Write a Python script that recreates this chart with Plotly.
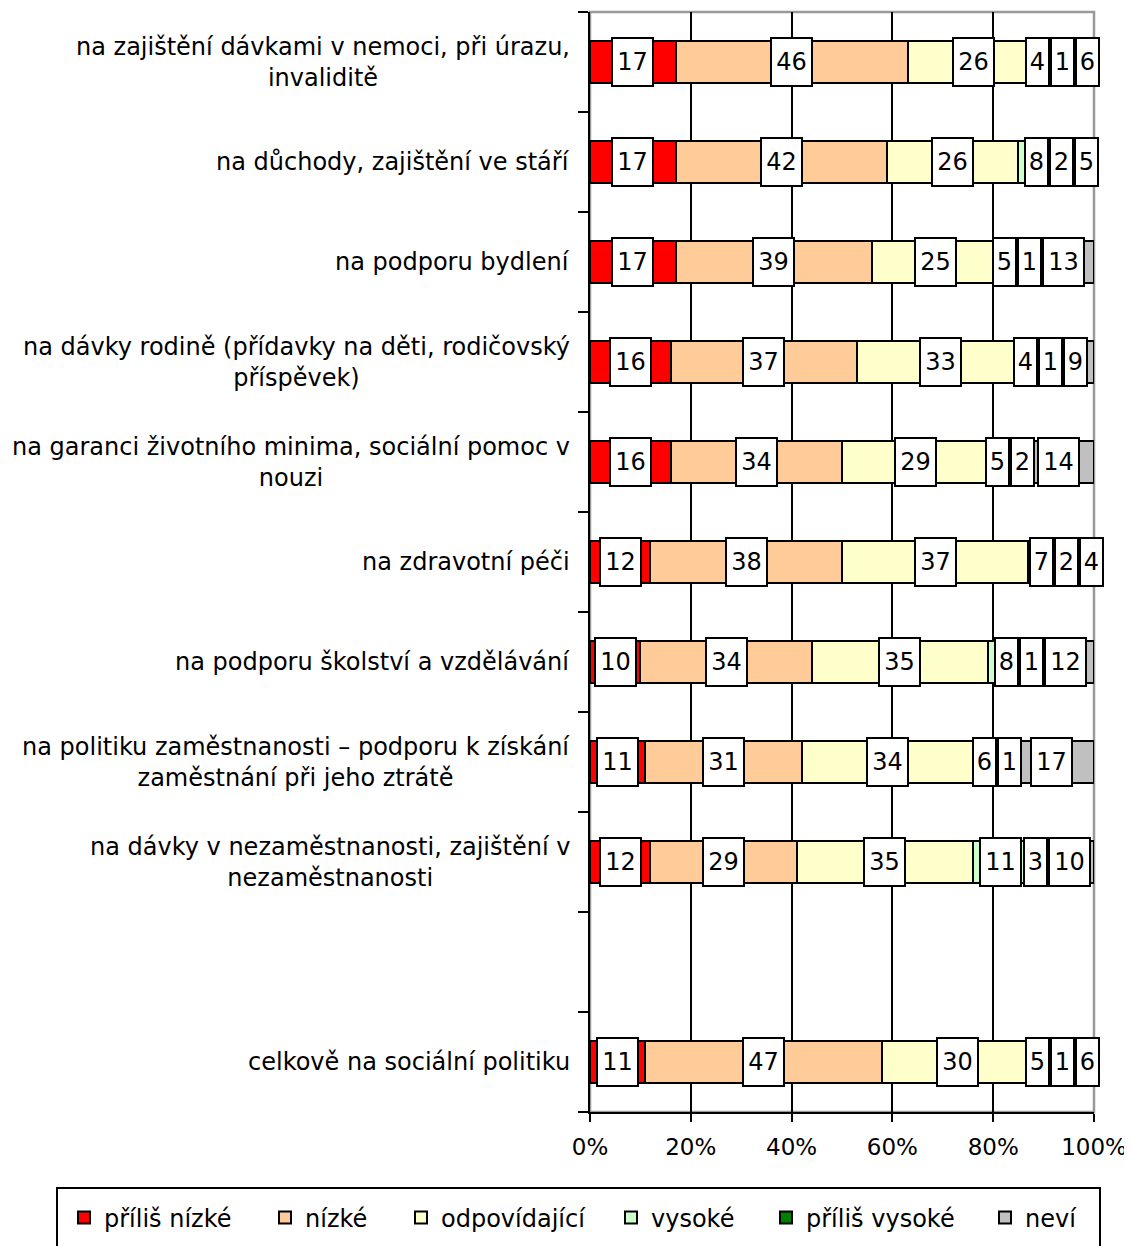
import plotly.graph_objects as go

# ---------------- data ----------------
categories = [
    "na zajištění dávkami v nemoci, při úrazu,<br>invaliditě",
    "na důchody, zajištění ve stáří",
    "na podporu bydlení",
    "na dávky rodině (přídavky na děti, rodičovský<br>příspěvek)",
    "na garanci životního minima, sociální pomoc v<br>nouzi",
    "na zdravotní péči",
    "na podporu školství a vzdělávání",
    "na politiku zaměstnanosti – podporu k získání<br>zaměstnání při jeho ztrátě",
    "na dávky v nezaměstnanosti, zajištění v<br>nezaměstnanosti",
    "",
    "celkově na sociální politiku",
]
prilis_nizke = [17, 17, 17, 16, 16, 12, 10, 11, 12, None, 11]
nizke = [46, 42, 39, 37, 34, 38, 34, 31, 29, None, 47]
odpovidajici = [26, 26, 25, 33, 29, 37, 35, 34, 35, None, 30]
vysoke = [4, 8, 5, 4, 5, 7, 8, 6, 11, None, 5]
prilis_vysoke = [1, 2, 1, 1, 2, 2, 1, 1, 3, None, 1]
nevi = [6, 5, 13, 9, 14, 4, 12, 17, 10, None, 6]

series_names = ["příliš nízké", "nízké", "odpovídající", "vysoké", "příliš vysoké", "neví"]
series_values = [prilis_nizke, nizke, odpovidajici, vysoke, prilis_vysoke, nevi]
series_colors = ["#FF0000", "#FFCC99", "#FFFFCC", "#CCFFCC", "#008000", "#C0C0C0"]
x_tick_values = [0, 20, 40, 60, 80, 100]
x_tick_labels = ["0%", "20%", "40%", "60%", "80%", "100%"]

# ---------------- layout constants ----------------
OFF = 8                      # page body margin
W, H = 1132 - OFF, 1246 - OFF
ML, MT = 590 - OFF, 12 - OFF
PLOT_W, PLOT_H = 504, 1100
MR = W - ML - PLOT_W
MB = H - MT - PLOT_H
FONT = "DejaVu Sans"
BW = 2
PAD = 2


def px_to_paper_x(sx):
    return (sx - OFF - ML) / PLOT_W


def px_to_paper_y(sy):
    return (MT + PLOT_H - (sy - OFF)) / PLOT_H


ypos = list(range(len(categories)))

# legend entry text starts (screen px) and legend frame
legend_text_x = [104, 305, 441, 651, 806, 1025]
legend_mid_y = 1218
legend_frame = (57, 1188, 1100, 1252)

fig = go.Figure()
for k, (name, vals, col) in enumerate(zip(series_names, series_values, series_colors)):
    fig.add_trace(go.Bar(
        y=ypos, x=vals, name=name, orientation="h",
        width=0.42,
        marker=dict(color=col, line=dict(color="black", width=2)),
        hoverinfo="x+name",
        legend="legend" if k == 0 else f"legend{k + 1}",
    ))

# ---------------- value labels (boxes), overlap-resolved ----------------
px_per_unit = PLOT_W / 100.0


def text_w(v):
    return 17 if len(str(v)) == 1 else 35


def box_w_units(v):
    return (text_w(v) + 2 * PAD + 2 * BW) / px_per_unit


def resolve(ideals, widths):
    clusters = [[i] for i in range(len(ideals))]

    def cluster_left(c):
        offs = []
        acc = 0.0
        for i in c:
            offs.append(acc + widths[i] / 2)
            acc += widths[i]
        return sum(ideals[i] - o for i, o in zip(c, offs)) / len(c), acc

    changed = True
    while changed:
        changed = False
        for k in range(len(clusters) - 1):
            l1, w1 = cluster_left(clusters[k])
            l2, _ = cluster_left(clusters[k + 1])
            if l1 + w1 > l2 + 1e-9:
                clusters[k] = clusters[k] + clusters[k + 1]
                del clusters[k + 1]
                changed = True
                break
    centers = [0.0] * len(ideals)
    for c in clusters:
        left, _ = cluster_left(c)
        acc = left
        for i in c:
            centers[i] = acc + widths[i] / 2
            acc += widths[i]
    return centers


annotations = []
for r in range(len(categories)):
    vals = [s[r] for s in series_values]
    if any(v is None for v in vals):
        continue
    cum = 0.0
    ideals, widths, shown = [], [], []
    for v in vals:
        if v:
            ideals.append(cum + v / 2.0)
            widths.append(box_w_units(v))
            shown.append(v)
        cum += v
    centers = resolve(ideals, widths)
    for v, cx in zip(shown, centers):
        annotations.append(dict(
            x=cx, y=r, xref="x", yref="y", text=str(v), showarrow=False,
            font=dict(family=FONT, size=24, color="black"),
            bgcolor="white", bordercolor="black", borderwidth=BW, borderpad=PAD,
            width=text_w(v), height=42, align="center", valign="middle",
        ))

for r, cat in enumerate(categories):
    if not cat:
        continue
    annotations.append(dict(
        x=0, y=r, xref="paper", yref="y", text=cat, showarrow=False,
        xanchor="right", yanchor="middle", align="center", xshift=-18,
        font=dict(family=FONT, size=24, color="black"),
    ))

legends = {}
for k, tx in enumerate(legend_text_x):
    key = "legend" if k == 0 else f"legend{k + 1}"
    legends[key] = dict(
        orientation="h", x=px_to_paper_x(tx - 40), xanchor="left",
        y=px_to_paper_y(legend_mid_y), yanchor="middle",
        font=dict(family=FONT, size=24, color="black"),
        bgcolor="rgba(0,0,0,0)", borderwidth=0,
    )

fx0, fy0, fx1, fy1 = legend_frame
shapes = [
    dict(type="rect", xref="paper", yref="paper", x0=0, x1=1, y0=0, y1=1,
         line=dict(color="#999999", width=2.5), layer="between"),
    dict(type="rect", xref="paper", yref="paper",
         x0=px_to_paper_x(fx0), x1=px_to_paper_x(fx1),
         y0=px_to_paper_y(fy1), y1=px_to_paper_y(fy0),
         line=dict(color="black", width=2), fillcolor="rgba(0,0,0,0)", layer="above"),
]

fig.update_layout(
    width=W, height=H,
    margin=dict(l=ML, r=MR, t=MT, b=MB, autoexpand=False),
    barmode="stack",
    paper_bgcolor="white", plot_bgcolor="white",
    font=dict(family=FONT, size=24, color="black"),
    xaxis=dict(
        range=[0, 100], tickmode="array", tickvals=x_tick_values, ticktext=x_tick_labels,
        showgrid=True, gridcolor="black", gridwidth=2,
        showline=True, linecolor="black", linewidth=2,
        ticks="outside", ticklen=8, tickwidth=2, tickcolor="black",
        ticklabelstandoff=5,
        tickfont=dict(family=FONT, size=23), zeroline=False, fixedrange=True,
    ),
    yaxis=dict(
        range=[len(categories) - 0.5, -0.5],
        tickmode="array",
        tickvals=[i - 0.5 for i in range(len(categories) + 1)],
        ticktext=[""] * (len(categories) + 1),
        showgrid=False, zeroline=False,
        showline=True, linecolor="black", linewidth=2,
        ticks="outside", ticklen=10, tickwidth=2, tickcolor="black",
        fixedrange=True,
    ),
    shapes=shapes,
    annotations=annotations,
    showlegend=True,
    **legends,
)

fig.write_html("out.html")
